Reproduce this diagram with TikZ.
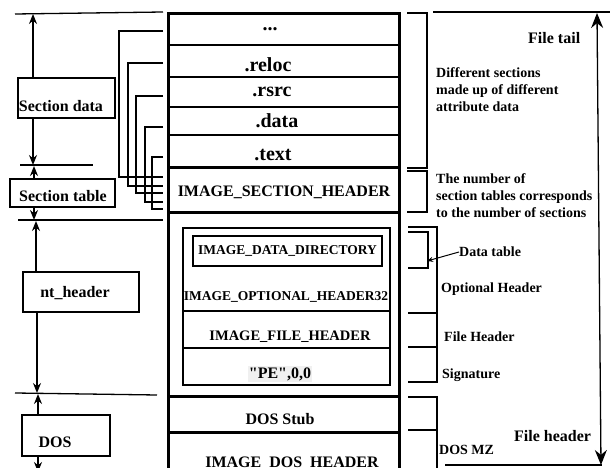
\documentclass[tikz,border=0pt]{standalone}
\usepackage{fontspec}
\setmainfont{Liberation Serif}
\newfontfamily\rawserif{Liberation Serif}[Ligatures=TeXOff]
\usetikzlibrary{arrows.meta}
\usetikzlibrary{positioning}

\begin{document}
\begin{tikzpicture}[x=1pt,y=-1pt,
        thinline/.style={line width=1.3pt},
        thickline/.style={line width=3pt},
        arr/.style={line width=1.3pt,-{Stealth[length=10pt,width=8pt]}},
        lbox/.style={draw,line width=1.3pt,inner sep=0pt},
        lbl/.style={font=\bfseries\fontsize{16}{18}\selectfont,inner sep=0pt},
        sec/.style={font=\bfseries\fontsize{20}{22}\selectfont,inner sep=0pt},
        inner/.style={font=\bfseries\fontsize{13.5}{16}\selectfont,inner sep=0pt},
        note/.style={font=\bfseries\fontsize{14}{17}\selectfont,inner sep=0pt,align=left,anchor=west}]
        \useasboundingbox (0,0) rectangle (611,468);

        % main column
        \draw[thickline] (168,480) -- (168,14) -- (399,14) -- (399,480);
        \foreach \y in {45,77,107,135} \draw[thinline] (168,\y) -- (399,\y);
        \foreach \y in {168,213,396,432} \draw[thickline] (168,\y) -- (399,\y);
        \node[sec] (dots) at (270,29) {...};
        \node[sec] (reloc) at (268,65) {.reloc};
        \node[sec] (rsrc) at (272,92) {.rsrc};
        \node[sec] (data) at (277,121) {.data};
        \node[sec] (text) at (273,155) {.text};
        \node[lbl] (sechdr) at (284,192) {IMAGE\_SECTION\_HEADER};

        % nt header
        \draw[line width=1.2pt] (183,228) rectangle (390,385);
        \draw[thinline] (183,311) -- (390,311);
        \draw[thinline] (183,348) -- (390,348);
        \node[inner,draw,line width=1.3pt,minimum width=189pt,minimum height=30pt] (ddir) at (287.5,251) {IMAGE\_DATA\_DIRECTORY};
        \node[inner] (opthdr) at (286,297) {IMAGE\_OPTIONAL\_HEADER32};
        \node[inner,font=\bfseries\fontsize{14.5}{16}\selectfont] (filehdr) at (290,337) {IMAGE\_FILE\_HEADER};
        \node[lbl,fill=gray!12,inner sep=1pt] (pesig) at (280,374) {\rawserif\bfseries "PE",0,0};
        \node[lbl] (stub) at (280,419) {DOS Stub};
        \node[lbl,anchor=base] (doshdr) at (292,467) {IMAGE\_DOS\_HEADER};

        % section links
        \foreach \t/\x/\b in {31/119/177,63/128/186,96/136/193,127/145/202,157/152/209}
            \draw[thinline] (163,\t) -| (\x,\b) -- (163,\b);

        % left side
        \draw[thinline] (15,14) -- (163,12);
        \draw[thinline] (20,165) -- (93,165);
        \draw[thinline] (18,220) -- (163,220);
        \draw[thinline] (15,393) -- (157,395);
        \node[lbox,minimum width=97pt,minimum height=40pt] (secdata) at (66.5,98) {};
        \node[lbl] (secdatal) at (61,106) {Section data};
        \node[lbox,minimum width=105pt,minimum height=28pt] (sectab) at (62.5,193) {};
        \node[lbl] (sectabl) at (63,196) {Section table};
        \node[lbox,minimum width=116pt,minimum height=40pt] (nthdr) at (81,292) {};
        \node[lbl] (nthdrl) at (75,293) {nt\_header};
        \node[lbox,minimum width=88pt,minimum height=41pt] (dos) at (66,435.5) {};
        \node[lbl] (dosl) at (55,442) {DOS};
        \coordinate (sdtop) at (33,14);
        \coordinate (sdbot) at (33,165);
        \coordinate (sttop) at (34,166);
        \coordinate (stbot) at (34,220);
        \coordinate (nttop) at (36,221);
        \coordinate (ntbot) at (37,393);
        \coordinate (dostop) at (38,394);
        \coordinate (dosbot) at (38,472);
        \draw[arr] (secdata.north -| sdtop) -- (sdtop);
        \draw[arr] (secdata.south -| sdbot) -- (sdbot);
        \draw[arr] (sectab.north -| sttop) -- (sttop);
        \draw[arr] (sectab.south -| stbot) -- (stbot);
        \draw[arr] (nthdr.north -| nttop) -- (nttop);
        \draw[arr] (nthdr.south -| ntbot) -- (ntbot);
        \draw[arr] (dos.north -| dostop) -- (dostop);
        \draw[arr] (dos.south -| dosbot) -- (dosbot);

        % right side brackets
        \draw[thinline] (407,13) -| (427,168) -- (407,168);
        \draw[thinline] (407,171) -| (427,212) -- (407,212);
        \draw[thinline] (408,227) -| (437,313) -- (408,313);
        \draw[thinline] (408,232) -| (428,268) -- (408,268);
        \draw[thinline] (408,347) -- (437,347);
        \draw[thinline] (437,313) -- (437,382) -- (408,382);
        \draw[thinline] (408,397) -| (437,430) -- (408,430);
        \draw[thinline] (437,430) -- (437,470);

        \node[lbl,anchor=west] (tail) at (528,38) {File tail};
        \node[note] (diffsec) at (436,90) {Different sections\\made up of different\\attribute data};
        \node[note] (numsec) at (436,196) {The number of\\section tables corresponds\\ to the number of sections};
        \node[note] (dtab) at (459,252) {Data table};
        \coordinate (dtabend) at (427,261);
        \draw[line width=1pt,-{Stealth[length=6pt,width=5pt]}] (dtab.west) -- (dtabend);
        \node[note] (opt) at (441,289) {Optional Header};
        \node[note] (fh) at (444,337) {File Header};
        \node[note] (sig) at (442,375) {Signature};
        \node[lbl,anchor=west] (fhdr) at (514,436) {File header};
        \node[note] (dosmz) at (439,450) {DOS MZ};

        % file span
        \draw[thinline] (433,12) -- (610,12);
        \draw[thinline] (445,465) -- (602,465);
        \coordinate (ftop) at (597,13);
        \coordinate (fbot) at (601,465);
        \draw[line width=1.3pt,{Stealth[length=15pt,width=12pt]}-{Stealth[length=15pt,width=12pt]}] (ftop) -- (fbot);
    \end{tikzpicture}
\end{document}
